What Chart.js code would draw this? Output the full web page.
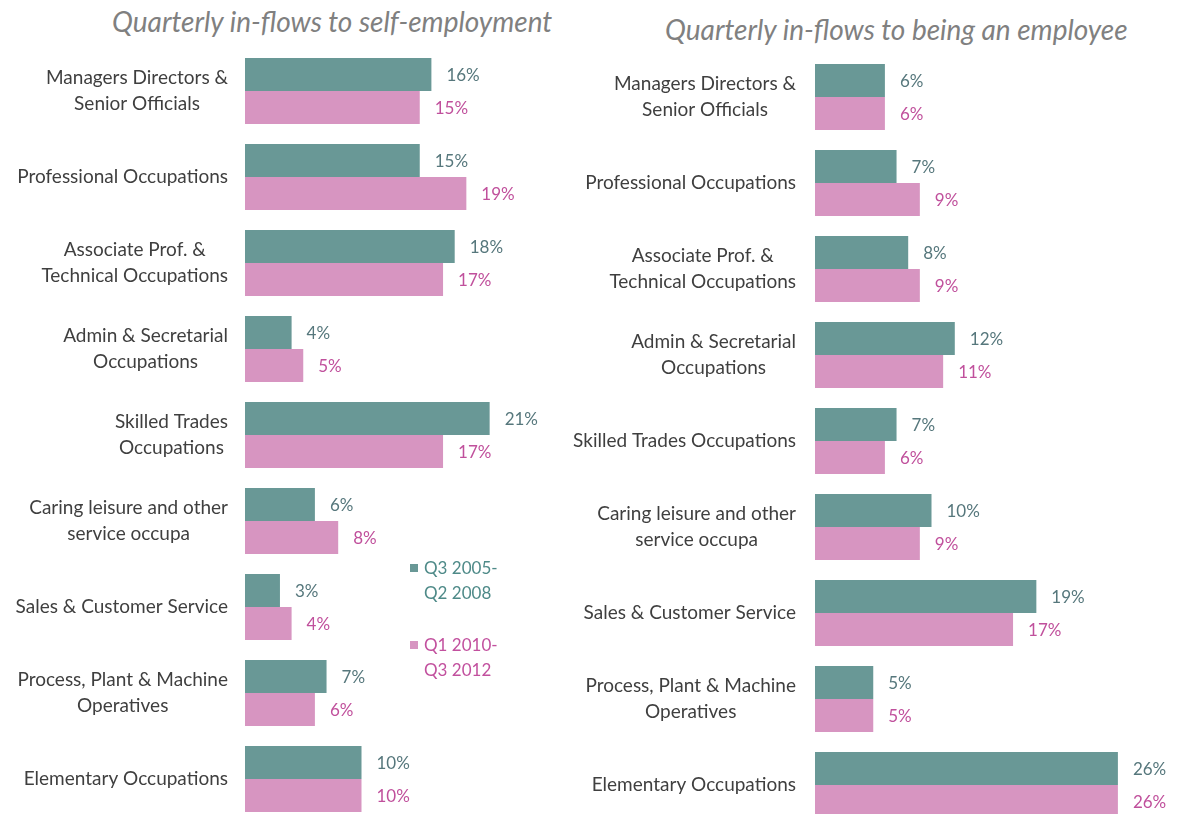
<!DOCTYPE html>
<html><head><meta charset="utf-8">
<script src="https://cdn.jsdelivr.net/npm/chart.js@4"></script>
<style>
html,body{margin:0;padding:0;background:#fff;width:1179px;height:814px;overflow:hidden;position:relative;font-family:Lato,"Open Sans",sans-serif;}
.title{position:absolute;font-style:italic;font-size:28px;color:#808080;white-space:nowrap;font-weight:400;}
#c1{position:absolute;left:0;top:0;}
#c2{position:absolute;left:540px;top:0;}
.leg{position:absolute;font-size:17px;line-height:25px;white-space:nowrap;}
.sq{position:absolute;width:8px;height:8px;}
</style></head><body>
<div class="title" style="left:112px;top:4px;">Quarterly in-flows to self-employment</div>
<div class="title" style="left:665px;top:12px;">Quarterly in-flows to being an employee</div>
<canvas id="c1"></canvas>
<canvas id="c2"></canvas>
<div class="sq" style="left:410px;top:564px;background:#699896"></div>
<div class="leg" style="left:424px;top:555px;color:#4e8a88">Q3 2005-<br>Q2 2008</div>
<div class="sq" style="left:410px;top:641px;background:#d795c1"></div>
<div class="leg" style="left:424px;top:632px;color:#c2509e">Q1 2010-<br>Q3 2012</div>
<script>
const seriesNames = ["Q3 2005-Q2 2008", "Q1 2010-Q3 2012"];
const leftCategories = [
  ["Managers Directors &","Senior Officials"],
  ["Professional Occupations"],
  ["Associate Prof. &","Technical Occupations"],
  ["Admin & Secretarial","Occupations"],
  ["Skilled Trades","Occupations"],
  ["Caring leisure and other","service occupa"],
  ["Sales & Customer Service"],
  ["Process, Plant & Machine","Operatives"],
  ["Elementary Occupations"]
];
const rightCategories = [
  ["Managers Directors &","Senior Officials"],
  ["Professional Occupations"],
  ["Associate Prof. &","Technical Occupations"],
  ["Admin & Secretarial","Occupations"],
  ["Skilled Trades Occupations"],
  ["Caring leisure and other","service occupa"],
  ["Sales & Customer Service"],
  ["Process, Plant & Machine","Operatives"],
  ["Elementary Occupations"]
];
const selfEmp2005 = [16,15,18,4,21,6,3,7,10];
const selfEmp2010 = [15,19,17,5,17,8,4,6,10];
const employee2005 = [6,7,8,12,7,10,19,5,26];
const employee2010 = [6,9,9,11,6,9,17,5,26];

const TEAL = "#699896", PINK = "#d795c1";
const TEAL_TXT = "#56777c", PINK_TXT = "#c0509c";
const FONT = "Lato, 'Open Sans', sans-serif";

const labelPlugin = {
  id: 'customLabels',
  afterDatasetsDraw(chart, args, opts) {
    const ctx = chart.ctx;
    const ys = chart.scales.y;
    ctx.save();
    ctx.font = "19px " + FONT;
    ctx.fillStyle = "#3f3f3f";
    ctx.textBaseline = "middle";
    ctx.textAlign = "center";
    const right = opts.labelRight;
    const lh = 26;
    chart.data.labels.forEach((lab, i) => {
      const lines = Array.isArray(lab) ? lab : [lab];
      const w = Math.max(...lines.map(l => ctx.measureText(l).width));
      const cx = right - w / 2;
      const yc = ys.getPixelForTick(i);
      const y0 = yc - (lines.length - 1) * lh / 2;
      lines.forEach((l, k) => ctx.fillText(l, cx, y0 + k * lh));
    });
    ctx.font = "17px " + FONT;
    ctx.textAlign = "left";
    chart.data.datasets.forEach((ds, di) => {
      const meta = chart.getDatasetMeta(di);
      ctx.fillStyle = di === 0 ? TEAL_TXT : PINK_TXT;
      meta.data.forEach((bar, i) => {
        ctx.fillText(ds.data[i] + "%", bar.x + 15, bar.y + 1);
      });
    });
    ctx.restore();
  }
};

function makeChart(id, w, h, cats, a, b, yWidth, padTop, padBottom, padRight, labelRight) {
  const cv = document.getElementById(id);
  cv.style.width = w + "px"; cv.style.height = h + "px";
  cv.width = w; cv.height = h;
  return new Chart(cv, {
    type: 'bar',
    data: {
      labels: cats,
      datasets: [
        { label: seriesNames[0], data: a, backgroundColor: TEAL, borderWidth: 0 },
        { label: seriesNames[1], data: b, backgroundColor: PINK, borderWidth: 0 }
      ]
    },
    options: {
      indexAxis: 'y',
      responsive: false,
      animation: false,
      devicePixelRatio: 1,
      layout: { padding: { top: padTop, bottom: padBottom, right: padRight, left: 0 } },
      categoryPercentage: 0.767,
      barPercentage: 1.0,
      plugins: { legend: { display: false }, tooltip: { enabled: false }, title: { display: false },
        customLabels: { labelRight: labelRight } },
      scales: {
        x: { display: false, min: 0, max: 30 },
        y: {
          grid: { display: false }, border: { display: false },
          ticks: { display: false },
          afterFit(scale) { scale.width = yWidth; }
        }
      }
    },
    plugins: [labelPlugin]
  });
}

// left canvas: plot x 245..594.5 ; y 48..822
makeChart('c1', 600, 830, leftCategories, selfEmp2005, selfEmp2010, 245, 48, 8, 5.5, 228);
// right canvas at page x 540: plot x 275 (page 815) .. 624.5 ; y 54..828
makeChart('c2', 639, 836, rightCategories, employee2005, employee2010, 275, 54, 8, 14.5, 256);
</script>
</body></html>
